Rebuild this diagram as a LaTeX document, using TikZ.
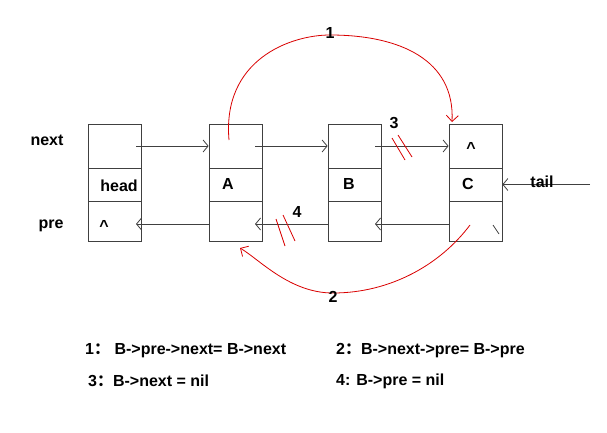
\documentclass[tikz,border=0pt]{standalone}
\usepackage{fontspec}
\setmainfont{Liberation Sans}
\newfontfamily\cjk{Noto Sans CJK SC}
\usetikzlibrary{arrows.meta}
\begin{document}
\begin{tikzpicture}[x=1pt,y=-1pt,
  cell/.style={draw=black!75,line width=0.8pt,minimum width=53pt,inner sep=0},
  lnk/.style={draw=black!75,line width=0.8pt,-{Straight Barb[length=5pt,width=12pt]}},
  red/.style={draw=red!85!black,line width=0.8pt},
  lbl/.style={font=\bfseries\fontsize{16}{18}\selectfont,inner sep=0},
  txt/.style={font=\bfseries\fontsize{16}{18}\selectfont,inner sep=0,anchor=west}]
\useasboundingbox (0,0) rectangle (607,433);
\foreach \n/\x in {h/114.5, a/235.5, b/354.5, c/475.5}{
  \node[cell,minimum height=44pt] (\n1) at (\x,146) {};
  \node[cell,minimum height=33pt] (\n2) at (\x,184.5) {};
  \node[cell,minimum height=40pt] (\n3) at (\x,221) {};
}
\node[lbl] at (119,186) {head};
\node[lbl] at (228,184) {A};
\node[lbl] at (349,184) {B};
\node[lbl] at (468,184) {C};
\node[lbl] at (471,148) {\textasciicircum};
\node[lbl] at (104,226) {\textasciicircum};
\coordinate (hs) at (136,146); \coordinate (as) at (255,146); \coordinate (bs) at (375,146);
\draw[lnk] (hs) -- (a1.west);
\draw[lnk] (as) -- (b1.west);
\draw[lnk] (bs) -- (c1.west);
\coordinate (he) at (136,224); \coordinate (ae) at (255,224); \coordinate (be) at (375,224);
\draw[lnk] (a3.west |- 0,224) -- (he);
\draw[lnk] (b3.west |- 0,224) -- (ae);
\draw[lnk] (c3.west |- 0,224) -- (be);
\coordinate (cx1) at (493,225); \coordinate (cx2) at (499,234);
\draw[draw=black!75,line width=0.8pt] (cx1) -- (cx2);
\coordinate (tl) at (590,184.5);
\draw[lnk] (tl) -- (c2.east);
\node[lbl] at (542,182) {tail};
\node[lbl] at (47,140) {next};
\node[lbl] at (51,226) {pre};
\coordinate (r1s) at (229,140); \coordinate (r1e) at (452,122);
\draw[red,-{Straight Barb[length=6pt,width=12pt]}] (r1s) .. controls (222,60) and (290,35) .. (330,35) .. controls (400,35) and (455,60) .. (r1e);
\node[lbl] at (330,33) {1};
\coordinate (r2s) at (470,225); \coordinate (r2e) at (240,248);
\draw[red,-{Straight Barb[length=6pt,width=12pt]}] (r2s) .. controls (440,265) and (390,293) .. (333,293) .. controls (290,293) and (260,260) .. (r2e);
\node[lbl] at (333,297) {2};
\node[lbl] at (394,123) {3};
\node[lbl] at (297,212) {4};
\draw[red] (392,138) -- (405,160) (398,135) -- (412,157);
\draw[red] (276,219) -- (285,246) (283,215) -- (295,241);
\node[txt] at (85,351) {1{\cjk ：} B->pre->next= B->next};
\node[txt] at (336,351) {2{\cjk ：}B->next->pre= B->pre};
\node[txt] at (88,381) {3{\cjk ：}B->next = nil};
\node[txt] at (336,381) {4: B->pre = nil};
\end{tikzpicture}
\end{document}
